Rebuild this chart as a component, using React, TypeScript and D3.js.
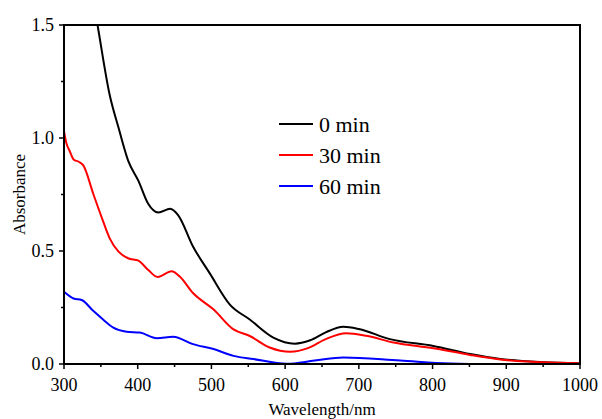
import * as React from "react";
import * as d3 from "d3";

// wavelength (nm) / absorbance
const wl0 = [300, 315, 330, 346, 362, 374, 387, 401, 414, 428, 444, 455, 475, 498, 525, 552, 584, 613, 634, 655, 679, 700, 742, 801, 851, 892, 950, 1000];
const abs0 = [2.5, 2.1, 1.8, 1.49, 1.19, 1.045, 0.9, 0.81, 0.71, 0.67, 0.687, 0.658, 0.52, 0.4, 0.263, 0.197, 0.117, 0.09, 0.105, 0.14, 0.165, 0.155, 0.11, 0.08, 0.044, 0.022, 0.008, 0.003];

const wl30 = [300, 303, 308, 313, 320, 326, 340, 351, 362, 374, 387, 401, 414, 427, 446, 457, 475, 503, 530, 552, 579, 607, 631, 655, 683, 710, 747, 801, 851, 892, 950, 1000];
const abs30 = [1.03, 0.98, 0.94, 0.905, 0.895, 0.88, 0.75, 0.65, 0.556, 0.497, 0.468, 0.457, 0.417, 0.385, 0.41, 0.387, 0.314, 0.241, 0.153, 0.124, 0.073, 0.054, 0.07, 0.11, 0.136, 0.125, 0.095, 0.07, 0.04, 0.02, 0.008, 0.003];

const wl60 = [300, 313, 324, 340, 353, 367, 385, 403, 426, 448, 475, 503, 530, 557, 602, 640, 679, 756, 824, 900, 1000];
const abs60 = [0.32, 0.29, 0.283, 0.234, 0.197, 0.161, 0.143, 0.139, 0.114, 0.121, 0.088, 0.066, 0.036, 0.022, 0.001, 0.015, 0.029, 0.015, 0.002, -0.002, -0.002];

const seriesNames = ["0 min", "30 min", "60 min"];
const seriesColors = ["#000000", "#ff0000", "#0000ff"];
const xTicks = [300, 400, 500, 600, 700, 800, 900, 1000];
const yTicks = [0.0, 0.5, 1.0, 1.5];

const W = 602;
const H = 419;
const margin = { left: 64, right: 22, top: 25, bottom: 55 };

const App = () => {
  const x = d3.scaleLinear().domain([300, 1000]).range([margin.left, W - margin.right]);
  const y = d3.scaleLinear().domain([0, 1.5]).range([H - margin.bottom, margin.top]);

  const series = [
    wl0.map((w, i) => [w, abs0[i]]),
    wl30.map((w, i) => [w, abs30[i]]),
    wl60.map((w, i) => [w, abs60[i]]),
  ];

  const line = d3
    .line<number[]>()
    .x((d) => x(d[0]))
    .y((d) => y(d[1]))
    .curve(d3.curveMonotoneX);

  const minorX = d3.range(350, 1000, 100);
  const minorY = [0.25, 0.75, 1.25];
  const font = "Liberation Serif";
  const x0 = margin.left;
  const x1 = W - margin.right;
  const y0 = H - margin.bottom;
  const y1 = margin.top;

  return (
    <svg width={W} height={H} style={{ position: "absolute", left: 0, top: 0, background: "#fff", fontFamily: font }}>
      <defs>
        <clipPath id="plot">
          <rect x={x0} y={y1} width={x1 - x0} height={y0 - y1} />
        </clipPath>
      </defs>
      <g clipPath="url(#plot)">
        {series.map((s, i) => (
          <path key={i} d={line(s) || ""} fill="none" stroke={seriesColors[i]} strokeWidth={2} />
        ))}
      </g>
      <rect x={x0} y={y1} width={x1 - x0} height={y0 - y1} fill="none" stroke="#000" strokeWidth={2} />
      {xTicks.map((t) => (
        <g key={t}>
          <line x1={x(t)} x2={x(t)} y1={y0} y2={y0 + 5} stroke="#000" strokeWidth={1.5} />
          <text x={x(t)} y={y0 + 27} fontSize={18} textAnchor="middle" style={{ fontFamily: font }}>{t}</text>
        </g>
      ))}
      {minorX.map((t) => (
        <line key={t} x1={x(t)} x2={x(t)} y1={y0} y2={y0 + 3} stroke="#000" strokeWidth={1.5} />
      ))}
      {yTicks.map((t) => (
        <g key={t}>
          <line x1={x0 - 5} x2={x0} y1={y(t)} y2={y(t)} stroke="#000" strokeWidth={1.5} />
          <text x={x0 - 10} y={y(t) + 6} fontSize={18} textAnchor="end" style={{ fontFamily: font }}>{t.toFixed(1)}</text>
        </g>
      ))}
      {minorY.map((t) => (
        <line key={t} x1={x0 - 3} x2={x0} y1={y(t)} y2={y(t)} stroke="#000" strokeWidth={1.5} />
      ))}
      <text x={(x0 + x1) / 2} y={H - 4} fontSize={17} textAnchor="middle" style={{ fontFamily: font }}>Wavelength/nm</text>
      <text transform={`translate(25,${(y0 + y1) / 2}) rotate(-90)`} fontSize={17} textAnchor="middle" style={{ fontFamily: font }}>Absorbance</text>
      {seriesNames.map((n, i) => (
        <g key={n} transform={`translate(279,${124 + i * 31})`}>
          <line x1={0} x2={34} y1={0} y2={0} stroke={seriesColors[i]} strokeWidth={2} />
          <text x={40} y={7.5} fontSize={22} style={{ fontFamily: font }}>{n}</text>
        </g>
      ))}
    </svg>
  );
};

export default App;
